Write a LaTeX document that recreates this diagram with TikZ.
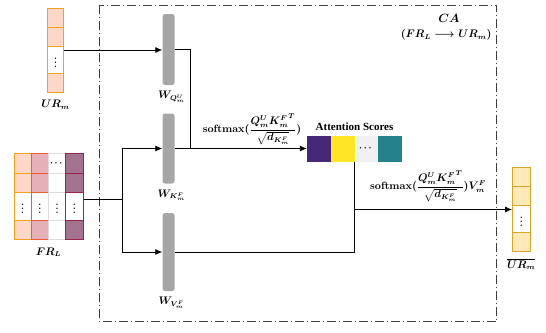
\documentclass[tikz,border=0pt]{standalone}
\usepackage{amsmath,amssymb}
\usepackage{fontspec}
\newfontfamily\scorefont{Liberation Serif}
\usetikzlibrary{arrows.meta,fit}

\definecolor{urFill}{HTML}{FDD8C8}
\definecolor{urLine}{HTML}{F7A21B}
\definecolor{frFillB}{HTML}{E6B0B9}
\definecolor{frLineB}{HTML}{EC5B3A}
\definecolor{frFillD}{HTML}{A2728F}
\definecolor{frLineD}{HTML}{9A2447}
\definecolor{cellGray}{HTML}{DCDCDC}
\definecolor{outFill}{HTML}{FFE9B6}
\definecolor{outLine}{HTML}{D8A72A}
\definecolor{barGray}{HTML}{A6A6A6}
\definecolor{attA}{HTML}{472878}
\definecolor{attB}{HTML}{FDE725}
\definecolor{attC}{HTML}{F0F0F0}
\definecolor{attD}{HTML}{23828C}

\tikzset{
  cell/.style={draw, line width=0.9pt, minimum width=16.5pt, inner sep=0pt, text=black, font=\small\bfseries\boldmath},
  wbar/.style={fill=barGray, rounded corners=2.5pt, minimum width=12pt, inner sep=0pt},
  wlabel/.style={below=2.5pt, xshift=3pt},
  conn/.style={line width=0.8pt},
  arr/.style={conn, -{Latex[length=7pt,width=6pt]}},
}

\begin{document}
\begin{tikzpicture}[x=1pt,y=-1pt,font=\fontsize{10.6}{12.5}\selectfont\bfseries\boldmath]
  \useasboundingbox (0,0) rectangle (546,332);
  % cross attention block
  \draw[black!75, line width=0.8pt, dash pattern=on 9pt off 3pt on 1pt off 3pt]
    (99.3,5) rectangle (496.7,321.7);
  \node[font=\large\bfseries\boldmath] at (449,18) {$CA$};
  \node[anchor=east] at (495,35) {$(FR_L \longrightarrow UR_m)$};

  % UR_m column
  \foreach \yc/\h/\f/\t [count=\i] in {17.5/19/urFill/{}, 36.5/19/urFill/{}, 59.5/27/white/{$\vdots$}, 82.5/19/urFill/{}}
    \node[cell, draw=urLine, fill=\f, minimum height=\h pt] (ur\i) at (55.5,\yc) {\t};
  \node[fit=(ur1)(ur4), inner sep=0pt] (ur) {};
  \node[below=4pt] at (ur.south) {$UR_m$};

  % FR_L matrix
  \foreach \xc/\f/\d [count=\j] in {22.6/urFill/urLine, 39.9/frFillB/frLineB, 57.1/white/cellGray, 74.4/frFillD/frLineD} {
    \foreach \yc/\r in {163.25/a, 182.75/b, 229.75/c}
      \node[cell, minimum width=17.25pt, minimum height=19.5pt, draw=\d, fill=\f] (fr\j\r) at (\xc,\yc) {};
    \node[cell, minimum width=17.25pt, minimum height=27.5pt, draw=\d, fill=white] (fr\j d) at (\xc,206.25) {$\vdots$};
  }
  \node[font=\small\boldmath] at (fr3a) {$\cdots$};
  \node[fit=(fr1a)(fr4c), inner sep=0pt] (fr) {};
  \node[below=4pt] at (fr.south) {$FR_L$};

  % projection weights
  \node[wbar, minimum height=71pt] (wq) at (168.5,49.5) {};
  \node[wbar, minimum height=70pt] (wk) at (168.5,148.5) {};
  \node[wbar, minimum height=78pt] (wv) at (168.5,252) {};
  \node[wlabel] at (wq.south) {$W_{Q_m^U}$};
  \node[wlabel] at (wk.south) {$W_{K_m^F}$};
  \node[wlabel] at (wv.south) {$W_{V_m^F}$};

  % attention scores
  \foreach \xc/\f/\t [count=\i] in {319.1/attA/{}, 342.7/attB/{}, 366.3/attC/{$\cdots$}, 389.9/attD/{}}
    \node[minimum width=23.6pt, minimum height=26pt, inner sep=0pt, fill=\f, font=\small\boldmath] (att\i) at (\xc,148.5) {\t};
  \node[fit=(att1)(att4), inner sep=0pt] (att) {};
  \node[above=1pt, font=\fontsize{11}{13}\selectfont\scorefont\bfseries] at (att.north) {Attention Scores};

  % output column
  \foreach \yc/\h/\f/\t [count=\i] in {177/19/outFill/{}, 196/19/outFill/{}, 219/27/white/{$\vdots$}, 242/19/outFill/{}}
    \node[cell, draw=outLine, fill=\f, minimum width=17.3pt, minimum height=\h pt] (out\i) at (521.3,\yc) {\t};
  \node[fit=(out1)(out4), inner sep=0pt] (out) {};
  \node[below=3pt] at (out.south) {$\overline{UR_m}$};

  % connectors
  \coordinate (jq) at (190.7,148.5);
  \coordinate (jf) at (122.7,199.3);
  \draw[arr] (ur.east) -- (ur.east -| wq.west);
  \draw[conn] (wq.east) -| (jq);
  \draw[arr] (wk.east) -- (att.west);
  \draw[conn] (fr.east |- jf) -- (jf);
  \draw[arr] (jf) |- (wk.west);
  \draw[arr] (jf) |- (wv.west);
  \draw[conn] (wv.east) -| (att.south);
  \draw[arr] (att.south |- out.west) -- (out.west);

  % formulas
  \node at (252,129) {softmax$(\dfrac{Q_m^U {K_m^F}^T}{\sqrt{d_{K_m^F}}})$};
  \node at (428,186) {softmax$(\dfrac{Q_m^U {K_m^F}^T}{\sqrt{d_{K_m^F}}})V_m^F$};
\end{tikzpicture}
\end{document}
